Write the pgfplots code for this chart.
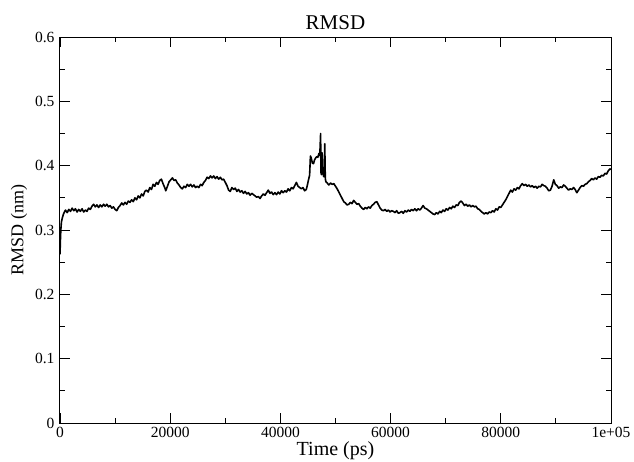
\documentclass[border=0pt]{standalone}
\usepackage{fontspec}
\setmainfont{Liberation Serif}
\usepackage{pgfplots}
\pgfplotsset{compat=1.18}
\usepackage{pgfplotstable}
\pgfplotstableread{
t v
0 0.262
80 0.285
150 0.300
250 0.312
400 0.318
600 0.324
800 0.328
1000 0.331
1300 0.327
1600 0.332
1900 0.329
2200 0.334
2500 0.330
2800 0.333
3100 0.328
3400 0.332
3700 0.329
4000 0.333
4300 0.328
4600 0.331
4900 0.329
5200 0.334
5500 0.332
5800 0.337
6100 0.340
6400 0.336
6700 0.339
7000 0.335
7300 0.339
7600 0.336
7900 0.340
8200 0.337
8500 0.340
8800 0.336
9100 0.338
9400 0.334
9700 0.336
10000 0.332
10300 0.330
10600 0.335
10900 0.338
11200 0.342
11500 0.339
11800 0.343
12100 0.340
12400 0.345
12700 0.343
13000 0.347
13300 0.344
13600 0.350
13900 0.347
14200 0.353
14500 0.350
14800 0.356
15100 0.353
15400 0.360
15700 0.362
16000 0.359
16300 0.366
16600 0.363
16900 0.371
17200 0.368
17500 0.374
17800 0.371
18100 0.377
18400 0.379
18700 0.372
19000 0.366
19200 0.361
19500 0.368
19800 0.375
20100 0.378
20400 0.381
20700 0.377
21000 0.378
21300 0.373
21600 0.370
21900 0.366
22200 0.364
22500 0.368
22800 0.366
23100 0.371
23400 0.368
23700 0.371
24000 0.367
24300 0.370
24600 0.366
24900 0.368
25200 0.366
25500 0.371
25800 0.369
26100 0.374
26400 0.377
26700 0.382
27000 0.380
27300 0.384
27600 0.381
27900 0.384
28200 0.380
28500 0.383
28800 0.379
29100 0.382
29400 0.378
29700 0.379
30000 0.374
30300 0.369
30600 0.362
30900 0.360
31200 0.366
31500 0.363
31800 0.365
32100 0.360
32400 0.363
32700 0.359
33000 0.361
33300 0.357
33600 0.360
33900 0.356
34200 0.358
34500 0.354
34800 0.357
35100 0.355
35400 0.353
35700 0.351
36000 0.352
36300 0.349
36600 0.353
36900 0.356
37200 0.354
37500 0.358
37800 0.362
38100 0.357
38400 0.359
38700 0.355
39000 0.358
39300 0.355
39600 0.359
39900 0.356
40200 0.361
40500 0.358
40800 0.361
41100 0.359
41400 0.364
41700 0.361
42000 0.366
42300 0.364
42600 0.369
42900 0.374
43200 0.368
43500 0.366
43800 0.364
44100 0.366
44400 0.361
44700 0.363
44900 0.370
45100 0.378
45300 0.385
45450 0.415
45600 0.412
45800 0.404
46000 0.403
46200 0.409
46400 0.412
46600 0.414
46800 0.413
47000 0.419
47150 0.416
47300 0.450
47350 0.390
47450 0.386
47550 0.420
47650 0.393
47750 0.388
47850 0.383
47950 0.389
48050 0.434
48150 0.380
48250 0.375
48500 0.373
48800 0.370
49100 0.373
49400 0.371
49700 0.372
50000 0.368
50300 0.364
50600 0.359
50900 0.354
51200 0.349
51500 0.344
51800 0.342
52100 0.339
52400 0.340
52700 0.343
53000 0.341
53300 0.346
53600 0.343
53900 0.340
54200 0.341
54500 0.337
54800 0.334
55100 0.332
55400 0.335
55700 0.333
56000 0.336
56300 0.334
56600 0.338
56900 0.340
57200 0.343
57500 0.344
57800 0.339
58100 0.334
58400 0.331
58700 0.330
59000 0.332
59300 0.329
59600 0.331
59900 0.328
60200 0.330
60500 0.329
60800 0.327
61100 0.330
61400 0.326
61700 0.327
62000 0.329
62300 0.326
62600 0.330
62900 0.328
63200 0.331
63500 0.329
63800 0.332
64100 0.330
64400 0.333
64700 0.330
65000 0.333
65300 0.331
65600 0.334
65900 0.338
66200 0.334
66500 0.333
66800 0.331
67100 0.329
67400 0.327
67700 0.325
68000 0.324
68300 0.327
68600 0.325
68900 0.329
69200 0.327
69500 0.331
69800 0.329
70100 0.333
70400 0.331
70700 0.335
71000 0.333
71300 0.337
71600 0.335
71900 0.339
72200 0.338
72500 0.343
72800 0.345
73100 0.342
73400 0.338
73700 0.340
74000 0.337
74300 0.339
74600 0.336
74900 0.338
75200 0.336
75500 0.337
75800 0.333
76100 0.332
76400 0.329
76700 0.327
77000 0.325
77300 0.327
77600 0.325
77900 0.328
78200 0.327
78500 0.330
78800 0.328
79100 0.333
79400 0.331
79700 0.336
80000 0.335
80300 0.339
80600 0.343
80900 0.347
81200 0.352
81500 0.357
81800 0.362
82100 0.359
82400 0.364
82700 0.362
83000 0.366
83300 0.364
83600 0.369
83900 0.372
84200 0.369
84500 0.371
84800 0.368
85100 0.370
85400 0.367
85700 0.369
86000 0.366
86300 0.368
86600 0.365
86900 0.368
87200 0.367
87500 0.371
87800 0.369
88100 0.368
88400 0.365
88700 0.361
89000 0.362
89300 0.368
89600 0.378
89900 0.371
90200 0.369
90500 0.365
90800 0.367
91100 0.366
91400 0.370
91700 0.368
92000 0.365
92300 0.362
92600 0.364
92900 0.363
93200 0.366
93500 0.363
93800 0.358
94100 0.362
94400 0.366
94700 0.369
95000 0.368
95300 0.371
95600 0.372
95900 0.375
96200 0.377
96500 0.380
96800 0.378
97100 0.381
97400 0.379
97700 0.383
98000 0.382
98300 0.385
98600 0.384
98900 0.388
99200 0.387
99500 0.392
99800 0.395
100000 0.394
}\rmsd
\begin{document}
\begin{tikzpicture}
\begin{axis}[
  at={(0pt,0pt)}, anchor=south west,
  scale only axis, width=551pt, height=386pt,
  xmin=0, xmax=100000, ymin=0, ymax=0.6,
  xtick={0,20000,40000,60000,80000,100000},
  xticklabels={0,20000,40000,60000,80000,1e+05},
  minor xtick={10000,30000,50000,70000,90000},
  ytick={0,0.1,0.2,0.3,0.4,0.5,0.6},
  yticklabels={0,0.1,0.2,0.3,0.4,0.5,0.6},
  minor ytick={0.05,0.15,0.25,0.35,0.45,0.55},
  scaled x ticks=false,
  tick align=inside,
  major tick length=10pt, minor tick length=5pt,
  tick style={black, line width=0.9pt},
  axis line style={line width=1pt},
  tick label style={font=\fontsize{15.5}{15.5}\selectfont},
  /pgf/number format/assume math mode=true,
  xticklabel style={yshift=-1pt},
  yticklabel style={xshift=-2pt},
  xlabel={Time (ps)}, ylabel={RMSD (nm)},
  xlabel style={font=\fontsize{20}{20}\selectfont, yshift=3pt},
  ylabel style={font=\fontsize{18}{18}\selectfont, yshift=1pt},
  title={RMSD}, title style={font=\fontsize{21}{21}\selectfont, yshift=-2pt},
]
\addplot[black, line width=1.6pt, line join=round] table[x=t, y=v] {\rmsd};
\end{axis}
\pgfresetboundingbox
\path (-60pt,-38pt) rectangle (574pt,423pt);
\end{tikzpicture}
\end{document}
